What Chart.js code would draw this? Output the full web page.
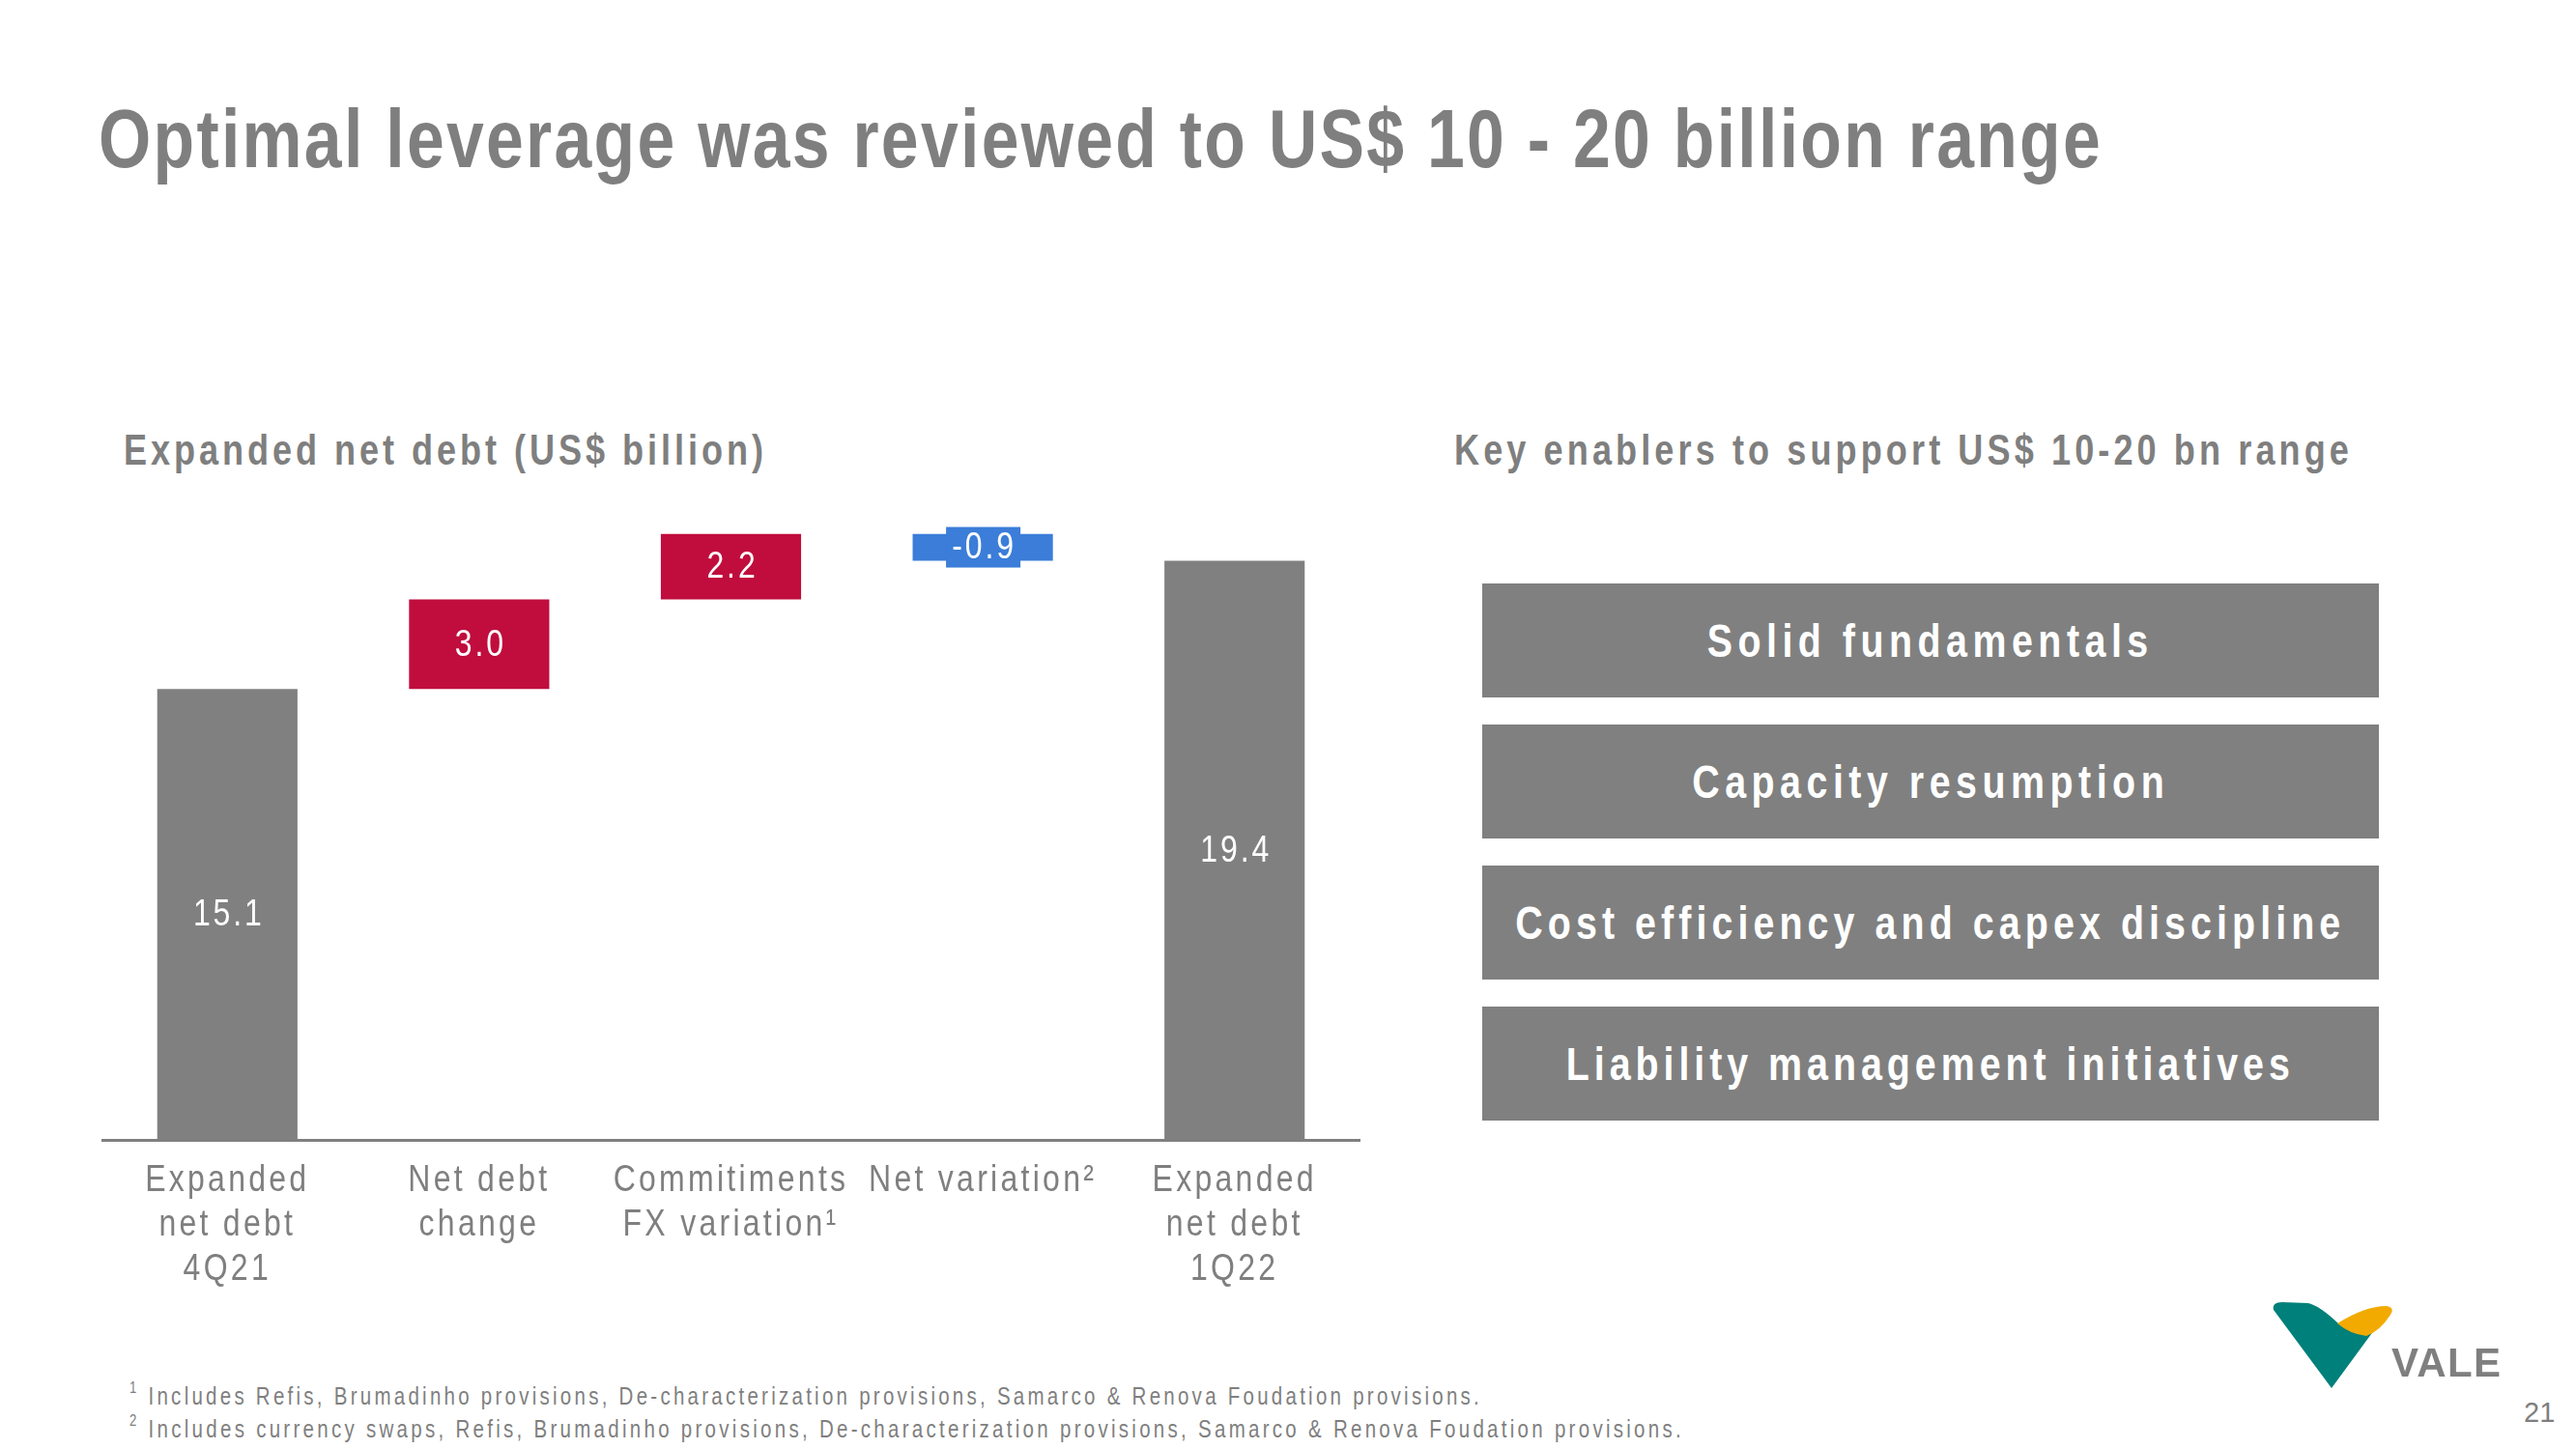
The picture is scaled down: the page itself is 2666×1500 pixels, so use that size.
<!DOCTYPE html>
<html>
<head>
<meta charset="utf-8">
<script src="https://cdn.jsdelivr.net/npm/chart.js@4.4.0/dist/chart.umd.min.js"></script>
<style>
html,body{margin:0;padding:0;background:#fff;}
#page{position:relative;width:2666px;height:1500px;overflow:hidden;background:#fff;
  font-family:"Liberation Sans",Arial,sans-serif;color:#7f7f7f;}
.t{position:absolute;white-space:nowrap;line-height:1;transform-origin:0 0;}
#title{left:102px;top:101px;font-size:85px;font-weight:bold;}
.sub{top:444px;font-size:44px;font-weight:bold;}
#subL{left:128px;}
#subR{left:1505px;}
.box{position:absolute;left:1534px;width:928px;height:118px;background:#808080;color:#fff;
  display:flex;align-items:center;justify-content:center;font-size:48px;font-weight:bold;white-space:nowrap;}
.box span{display:inline-block;transform-origin:50% 50%;}
.foot{left:134px;font-size:25px;}
.foot sup{font-size:16px;vertical-align:top;position:relative;top:-4px;}
#pg{left:2612px;top:1448px;font-size:29px;}
#chartWrap{position:absolute;left:105px;top:480px;width:1303px;height:860px;}
#logo{position:absolute;left:0;top:0;}
</style>
</head>
<body>
<div id="page">
  <div class="t" id="title">Optimal leverage was reviewed to US$ 10 - 20 billion range</div>
  <div class="t sub" id="subL">Expanded net debt (US$ billion)</div>
  <div class="t sub" id="subR">Key enablers to support US$ 10-20 bn range</div>

  <div class="box" style="top:604px"><span id="b1">Solid fundamentals</span></div>
  <div class="box" style="top:750px"><span id="b2">Capacity resumption</span></div>
  <div class="box" style="top:896px"><span id="b3">Cost efficiency and capex discipline</span></div>
  <div class="box" style="top:1042px"><span id="b4">Liability management initiatives</span></div>

  <div id="chartWrap"><canvas id="c" width="1303" height="860"></canvas></div>

  <div class="t foot" id="f1" style="top:1433px"><sup>1</sup> Includes Refis, Brumadinho provisions, De-characterization provisions, Samarco &amp; Renova Foudation provisions.</div>
  <div class="t foot" id="f2" style="top:1467px"><sup>2</sup> Includes currency swaps, Refis, Brumadinho provisions, De-characterization provisions, Samarco &amp; Renova Foudation provisions.</div>
  <div class="t" id="pg">21</div>

  <svg id="logo" width="2666" height="1500" viewBox="0 0 2666 1500">
    <path d="M2353,1356 Q2351,1348 2362,1348 L2389,1349 Q2401,1352 2420,1370 L2457,1377 L2413,1437 Z" fill="#00807a"/>
    <path d="M2419,1370 Q2448,1352 2469,1352 Q2479,1353 2474,1361 Q2463,1378 2449,1383 Q2432,1381 2419,1370 Z" fill="#f2aa00"/>
    <text x="2475" y="1425" font-family="Liberation Sans, Arial, sans-serif" font-weight="bold" font-size="42" fill="#7f7f7f" textLength="113" lengthAdjust="spacing">VALE</text>
  </svg>
</div>

<script>
// ---- data ----
const categories = [
  ["Expanded", "net debt", "4Q21"],
  ["Net debt", "change"],
  ["Commitiments", "FX variation\u00B9"],
  ["Net variation\u00B2"],
  ["Expanded", "net debt", "1Q22"]
];
const values = [15.1, 3.0, 2.2, -0.9, 19.4];
const barKinds = ["total", "change", "change", "change", "total"];
const valueLabels = ["15.1", "3.0", "2.2", "-0.9", "19.4"];

// ---- styles ----
const FONT = '"Liberation Sans",Arial,sans-serif';
const NARROW = 0.82;
const GREY = '#808080', RED = '#c00d3d', BLUE = '#3b7dd8', TEXT = '#7f7f7f';

// build floating bars from the values
let running = 0;
const floating = values.map((v, i) => {
  if (barKinds[i] === 'total') { running = v; return [0, v]; }
  const start = running; running = +(running + v).toFixed(2); return [start, running];
});
const colors = values.map((v, i) => barKinds[i] === 'total' ? GREY : (v < 0 ? BLUE : RED));

// condensed, letter-spaced text on the canvas (no narrow font installed)
const narrowPlugin = {
  id: 'narrowText',
  beforeDraw(chart) {
    const ctx = chart.ctx;
    ctx.letterSpacing = '4px';
    if (!ctx.__narrow) {
      const orig = ctx.fillText;
      ctx.fillText = function (text, x, y, maxWidth) {
        this.save();
        this.translate(x, y);
        this.scale(NARROW, 1);
        orig.call(this, text, 0, 0);
        this.restore();
      };
      ctx.__narrow = true;
    }
  }
};
const labelPlugin = {
  id: 'valueLabels',
  afterDatasetsDraw(chart) {
    const ctx = chart.ctx;
    const meta = chart.getDatasetMeta(0);
    meta.data.forEach((bar, i) => {
      const p = bar.getProps(['x', 'y', 'base'], true);
      const cy = (p.y + p.base) / 2;
      ctx.save();
      ctx.font = '39px ' + FONT;
      ctx.letterSpacing = '3.5px';
      ctx.textAlign = 'center';
      ctx.textBaseline = 'middle';
      if (barKinds[i] === 'change' && values[i] < 0) {
        ctx.fillStyle = BLUE;
        ctx.fillRect(p.x - 38, cy - 21, 77, 42);
      }
      ctx.fillStyle = '#ffffff';
      ctx.fillText(valueLabels[i], p.x + 1.5, cy + 1);
      ctx.restore();
    });
  }
};

new Chart(document.getElementById('c'), {
  type: 'bar',
  data: {
    labels: categories,
    datasets: [{
      data: floating,
      backgroundColor: colors,
      borderWidth: 0,
      categoryPercentage: 1.0,
      barPercentage: 0.557
    }]
  },
  options: {
    responsive: false,
    maintainAspectRatio: false,
    animation: false,
    layout: { padding: 0 },
    plugins: { legend: { display: false }, tooltip: { enabled: false } },
    scales: {
      x: {
        grid: { display: false, drawTicks: false },
        border: { display: true, color: TEXT, width: 3 },
        ticks: {
          color: TEXT,
          font: { family: FONT, size: 39, lineHeight: 1.18 },
          padding: 19,
          maxRotation: 0,
          autoSkip: false
        },
        afterFit(scale) { scale.height = 160; }
      },
      y: { display: false, min: 0, max: 22.65 }
    }
  },
  plugins: [narrowPlugin, labelPlugin]
});

// condense HTML text and fit letter spacing to the reference widths
function fit(id, target, origin) {
  const el = document.getElementById(id);
  el.style.transform = 'none';
  el.style.letterSpacing = '0px';
  const w = el.getBoundingClientRect().width;
  const n = el.textContent.length;
  el.style.letterSpacing = ((target / NARROW - w) / n) + 'px';
  el.style.transform = 'scaleX(' + NARROW + ')';
}
fit('title', 2074);
fit('subL', 666);
fit('subR', 930);
fit('f1', 1400);
fit('f2', 1609);
fit('b1', 462);
fit('b2', 494);
fit('b3', 859);
fit('b4', 754);
</script>
</body>
</html>
